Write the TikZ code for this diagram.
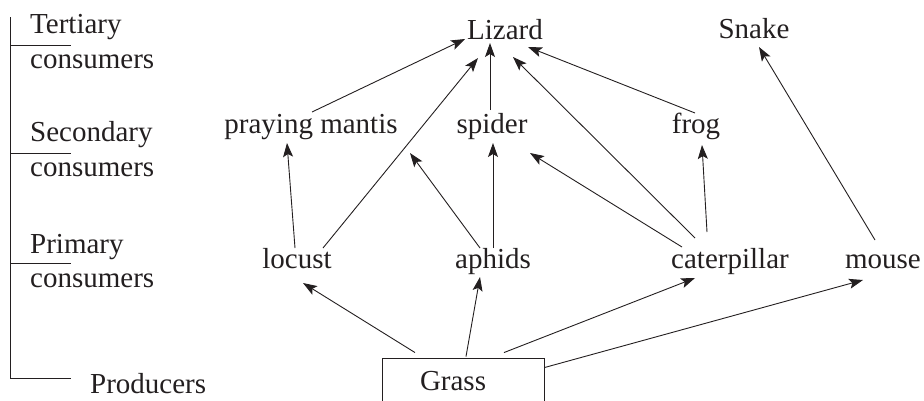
\documentclass[tikz,border=0pt]{standalone}
\usepackage{fontspec}
\setmainfont{Liberation Serif}
\usetikzlibrary{arrows.meta,calc}
\definecolor{ink}{HTML}{231F20}
\begin{document}
\begin{tikzpicture}[x=1pt,y=-1pt,
  every node/.style={font=\fontsize{29}{33}\selectfont, text=ink},
  lbl/.style={inner sep=0pt, text height=20pt, text depth=6pt, anchor=base},
  side/.style={inner sep=0pt, anchor=base west},
  arr/.style={draw=ink, line width=0.9pt, -{Stealth[length=14pt,width=10pt,inset=3pt]}},
  rule/.style={draw=ink, line width=0.9pt}]
\useasboundingbox (0,0) rectangle (924,400);
% left scale
\draw[rule] (10,17) -- (10,378);
\draw[rule] (10,45) -- (71,45);
\draw[rule] (10,153) -- (71,153);
\draw[rule] (10,263) -- (71,263);
\draw[rule] (10,378) -- (71,378);
\node[side] (t1) at (30,33) {Tertiary};
\node[side] (t2) at (30,68) {consumers};
\node[side] (s1) at (30,141) {Secondary};
\node[side] (s2) at (30,176) {consumers};
\node[side] (p1) at (30,253) {Primary};
\node[side] (p2) at (30,287) {consumers};
\node[side] (pr) at (90,393) {Producers};
% organisms
\node[lbl] (Lizard) at (505,39) {Lizard};
\node[lbl] (Snake) at (754,38) {Snake};
\node[lbl] (mantis) at (311,133) {praying mantis};
\node[lbl] (spider) at (492,133) {spider};
\node[lbl] (frog) at (696,133) {frog};
\node[lbl] (locust) at (297,268) {locust};
\node[lbl] (aphids) at (493,268) {aphids};
\node[lbl] (cater) at (730,268) {caterpillar};
\node[lbl] (mouse) at (883,268) {mouse};
\node[draw=ink, line width=0.9pt, inner sep=0pt, minimum width=162pt, minimum height=50pt,
      text width=162pt, align=left, text height=20pt, text depth=6pt] (Grass) at (463,383)
      {\hspace*{38pt}Grass};
% arrows
\draw[arr] ($(mantis.base)+(1,-21)$) -- ($(Lizard.base)+(-40,0)$);
\draw[arr] ($(locust.base)+(26,-20)$) -- ($(Lizard.base)+(-27,19)$);
\draw[arr] ($(spider.base)+(-2,-23)$) -- ($(Lizard.base)+(-15,4)$);
\draw[arr] ($(cater.base)+(-35,-30)$) -- ($(Lizard.base)+(8,18)$);
\draw[arr] ($(frog.base)+(-1,-20)$) -- ($(Lizard.base)+(23,8)$);
\draw[arr] ($(mouse.base)+(-8,-28)$) -- ($(Snake.base)+(5,9)$);
\draw[arr] ($(locust.base)+(-2,-20)$) -- ($(mantis.base)+(-24,10)$);
\draw[arr] ($(aphids.base)+(-13,-20)$) -- ($(mantis.base)+(99,20)$);
\draw[arr] ($(aphids.base)+(0,-20)$) -- ($(spider.base)+(1,10)$);
\draw[arr] ($(cater.base)+(-48,-21)$) -- ($(spider.base)+(38,20)$);
\draw[arr] ($(cater.base)+(-23,-36)$) -- ($(frog.base)+(6,12)$);
\draw[arr] ($(Grass.north)+(-48,-5)$) -- ($(locust.base)+(6,15)$);
\draw[arr] ($(Grass.north)+(3,-1)$) -- ($(aphids.base)+(-13,9)$);
\draw[arr] ($(Grass.north)+(41,-5)$) -- ($(cater.base)+(-35,10)$);
\draw[arr] ($(Grass.north east)+(0,10)$) -- ($(mouse.base)+(-20,12)$);
\end{tikzpicture}
\end{document}
